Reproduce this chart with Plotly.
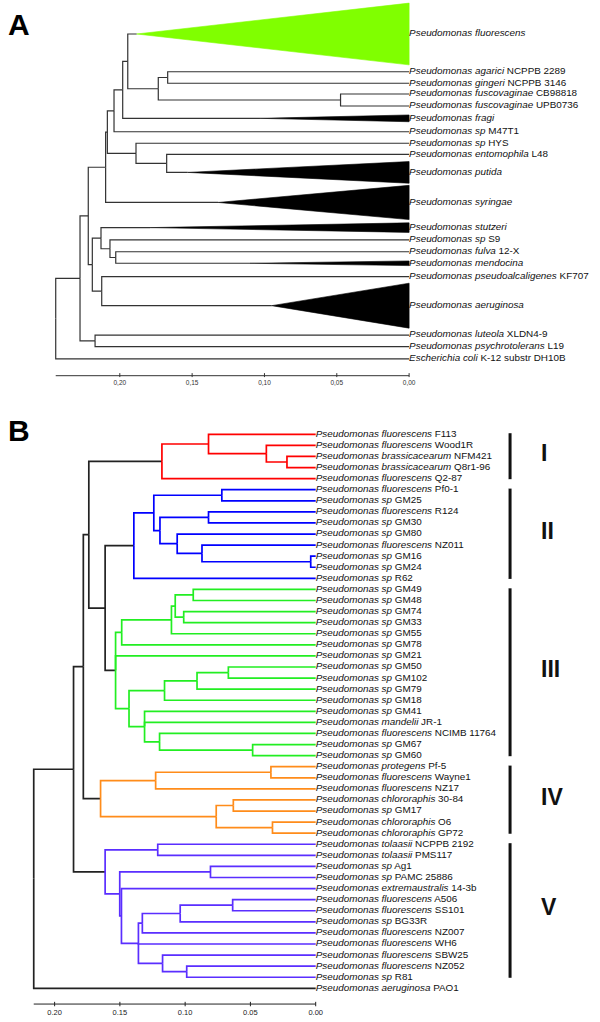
import plotly.graph_objects as go

FONT = "Liberation Sans, Arial, Helvetica, sans-serif"

# ---------------- Panel A data ----------------
A_species = ["Pseudomonas fluorescens", "Pseudomonas agarici", "Pseudomonas gingeri",
             "Pseudomonas fuscovaginae", "Pseudomonas fuscovaginae", "Pseudomonas fragi",
             "Pseudomonas sp", "Pseudomonas sp", "Pseudomonas entomophila", "Pseudomonas putida",
             "Pseudomonas syringae", "Pseudomonas stutzeri", "Pseudomonas sp", "Pseudomonas fulva",
             "Pseudomonas mendocina", "Pseudomonas pseudoalcaligenes", "Pseudomonas aeruginosa",
             "Pseudomonas luteola", "Pseudomonas psychrotolerans", "Escherichia coli"]
A_strain = ["", "NCPPB 2289", "NCPPB 3146", "CB98818", "UPB0736", "", "M47T1", "HYS", "L48", "",
            "", "", "S9", "12-X", "", "KF707", "", "XLDN4-9", "L19", "K-12 substr DH10B"]
# vertical position of each tip (in leaf-row units)
A_row = [0.0, 3.24, 4.23, 5.15, 6.18, 7.24, 8.39, 9.38, 10.33, 11.88,
         14.46, 16.62, 17.68, 18.69, 19.68, 20.83, 23.32, 25.84, 26.84, 27.88]
# collapsed clades (triangles)
A_collapsed_tip = [0, 5, 9, 10, 11, 14, 16]
A_collapsed_apex = [0.1883, 0.1031, 0.1532, 0.1320, 0.1791, 0.1100, 0.0950]
A_collapsed_half = [2.65, 0.29, 0.93, 1.47, 0.41, 0.20, 1.93]
A_collapsed_color = ["#80ff00", "#000000", "#000000", "#000000", "#000000", "#000000", "#000000"]


def N(d, *kids, color=None):
    return {"d": d, "kids": list(kids), "color": color}


# node depths (distance from tips)
tree_A = N(0.2443,
           N(0.2275,
             N(0.2218,
               N(0.2098,
                 N(0.2086,
                   N(0.2040,
                     N(0.1980,
                       N(0.1945, 0, N(0.1734, N(0.1669, 1, 2), N(0.0474, 3, 4))),
                       5),
                     6),
                   N(0.1888, 7, N(0.1676, 8, 9))),
                 10),
               N(0.2190,
                 N(0.2130, 11, N(0.2068, 12, N(0.2028, 13, 14))),
                 N(0.2125, 15, 16))),
             N(0.2171, 17, 18)),
           19)

# ---------------- Panel B data ----------------
B_species = (["Pseudomonas fluorescens", "Pseudomonas fluorescens", "Pseudomonas brassicacearum",
              "Pseudomonas brassicacearum", "Pseudomonas fluorescens"] +
             ["Pseudomonas fluorescens", "Pseudomonas sp", "Pseudomonas fluorescens", "Pseudomonas sp",
              "Pseudomonas sp", "Pseudomonas fluorescens", "Pseudomonas sp", "Pseudomonas sp",
              "Pseudomonas sp"] +
             ["Pseudomonas sp"] * 12 + ["Pseudomonas mandelii", "Pseudomonas fluorescens",
                                        "Pseudomonas sp", "Pseudomonas sp"] +
             ["Pseudomonas protegens", "Pseudomonas fluorescens", "Pseudomonas fluorescens",
              "Pseudomonas chlororaphis", "Pseudomonas sp", "Pseudomonas chlororaphis",
              "Pseudomonas chlororaphis"] +
             ["Pseudomonas tolaasii", "Pseudomonas tolaasii", "Pseudomonas sp", "Pseudomonas sp",
              "Pseudomonas extremaustralis", "Pseudomonas fluorescens", "Pseudomonas fluorescens",
              "Pseudomonas sp", "Pseudomonas fluorescens", "Pseudomonas fluorescens",
              "Pseudomonas fluorescens", "Pseudomonas fluorescens", "Pseudomonas sp"] +
             ["Pseudomonas aeruginosa"])
B_strain = (["F113", "Wood1R", "NFM421", "Q8r1-96", "Q2-87"] +
            ["Pf0-1", "GM25", "R124", "GM30", "GM80", "NZ011", "GM16", "GM24", "R62"] +
            ["GM49", "GM48", "GM74", "GM33", "GM55", "GM78", "GM21", "GM50", "GM102", "GM79",
             "GM18", "GM41", "JR-1", "NCIMB 11764", "GM67", "GM60"] +
            ["Pf-5", "Wayne1", "NZ17", "30-84", "GM17", "O6", "GP72"] +
            ["NCPPB 2192", "PMS117", "Ag1", "PAMC 25886", "14-3b", "A506", "SS101", "BG33R",
             "NZ007", "WH6", "SBW25", "NZ052", "R81"] +
            ["PAO1"])
B_row = list(range(len(B_species)))

groups = ["I", "II", "III", "IV", "V"]
group_first = [0, 5, 14, 30, 37]
group_last = [4, 13, 29, 36, 49]
group_color = ["#ff0000", "#0000ff", "#22ee22", "#ff8c1a", "#5a2eff"]

tree_B = N(0.2160,
           N(0.1855,
             N(0.1780,
               N(0.1738,
                 N(0.1178, N(0.0821, 0, N(0.0378, 1, N(0.0220, 2, 3))), 4, color=group_color[0]),
                 N(0.1613,
                   N(0.1393,
                     N(0.1240,
                       N(0.0719, 5, 6),
                       N(0.1193, N(0.0821, 7, 8),
                         N(0.1061, 9, N(0.0871, 10, N(0.0038, 11, 12))))),
                     13, color=group_color[1]),
                   N(0.1533,
                     N(0.1486,
                       N(0.1105, N(0.1076, N(0.0938, 14, 15), N(0.1011, 16, 17)), 18),
                       19),
                     20,
                     N(0.1430,
                       N(0.1158, N(0.0909, N(0.0669, 21, 22), 23), 24),
                       N(0.1311, 25, 26, N(0.1196, 27, N(0.0483, 28, 29)))),
                     color=group_color[2]))),
               N(0.1648,
                 N(0.1226, N(0.0343, 30, 31), 32),
                 N(0.0762, N(0.0631, 33, 34), N(0.0331, 35, 36)),
                 color=group_color[3])),
             N(0.1613,
               N(0.1210, 37, 38),
               N(0.1501,
                 N(0.0806, 39, 40),
                 N(0.1488,
                   41,
                   N(0.1358,
                     N(0.1328, N(0.1038, N(0.0636, 42, 43), 44), 45),
                     46,
                     N(0.1173, 47, N(0.0988, 48, 49))))),
               color=group_color[4])),
           50)

ticks = [0.20, 0.15, 0.10, 0.05, 0.00]


# ---------------- helpers ----------------
def set_y(node, rows):
    if isinstance(node, int):
        return rows[node]
    ys = [set_y(k, rows) for k in node["kids"]]
    node["y"] = (ys[0] + ys[-1]) / 2.0
    return node["y"]


def collect(node, color, segs, rows, tip_end):
    col = node["color"] or color
    for k in node["kids"]:
        if isinstance(k, int):
            ky, kd = rows[k], tip_end.get(k, 0.0)
        else:
            ky, kd = k["y"], k["d"]
        xs, ys = segs.setdefault(col, ([], []))
        xs += [node["d"], node["d"], kd, None]
        ys += [node["y"], ky, ky, None]
        if not isinstance(k, int):
            collect(k, col, segs, rows, tip_end)


def label(sp, st):
    return f"<i>{sp}</i>" + (f" {st}" if st else "")


fig = go.Figure()

# ---------------- Panel A ----------------
tipend_A = dict(zip(A_collapsed_tip, A_collapsed_apex))
set_y(tree_A, A_row)
segA = {}
collect(tree_A, "#333333", segA, A_row, tipend_A)
for col, (xs, ys) in segA.items():
    fig.add_trace(go.Scatter(x=xs, y=ys, mode="lines", line=dict(color=col, width=1.2),
                             xaxis="x", yaxis="y", hoverinfo="skip"))
for t, a, h, c in zip(A_collapsed_tip, A_collapsed_apex, A_collapsed_half, A_collapsed_color):
    r = A_row[t]
    fig.add_trace(go.Scatter(x=[a, 0, 0, a], y=[r, r - h, r + h, r], mode="lines",
                             fill="toself", fillcolor=c, line=dict(color=c, width=0.6),
                             xaxis="x", yaxis="y", hoverinfo="skip"))
fig.add_trace(go.Scatter(x=[0] * len(A_row), y=A_row, mode="text",
                         text=[label(s, t) for s, t in zip(A_species, A_strain)],
                         textposition="middle right",
                         textfont=dict(family=FONT, size=9.9, color="#111111"),
                         xaxis="x", yaxis="y", hoverinfo="skip"))
axA = A_row[-1] + 1.45
axx, axy = [tree_A["d"], 0, None], [axA, axA, None]
for v in ticks:
    axx += [v, v, None]
    axy += [axA - 0.22, axA + 0.12, None]
fig.add_trace(go.Scatter(x=axx, y=axy, mode="lines", line=dict(color="#333333", width=1),
                         xaxis="x", yaxis="y", hoverinfo="skip"))
fig.add_trace(go.Scatter(x=ticks, y=[axA + 0.68] * len(ticks), mode="text",
                         text=[f"{v:.2f}".replace(".", ",") for v in ticks],
                         textposition="middle center",
                         textfont=dict(family=FONT, size=6.5, color="#333333"),
                         xaxis="x", yaxis="y", hoverinfo="skip"))

# ---------------- Panel B ----------------
set_y(tree_B, B_row)
segB = {}
collect(tree_B, "#222222", segB, B_row, {})
for col, (xs, ys) in segB.items():
    fig.add_trace(go.Scatter(x=xs, y=ys, mode="lines", line=dict(color=col, width=1.7),
                             xaxis="x2", yaxis="y2", hoverinfo="skip"))
fig.add_trace(go.Scatter(x=[0] * len(B_row), y=B_row, mode="text",
                         text=[label(s, t) for s, t in zip(B_species, B_strain)],
                         textposition="middle right",
                         textfont=dict(family=FONT, size=9.9, color="#111111"),
                         xaxis="x2", yaxis="y2", hoverinfo="skip"))
axB = B_row[-1] + 1.42
bx, by = [tree_B["d"], 0, None], [axB, axB, None]
for v in ticks:
    bx += [v, v, None]
    by += [axB - 0.2, axB + 0.2, None]
fig.add_trace(go.Scatter(x=bx, y=by, mode="lines", line=dict(color="#222222", width=1),
                         xaxis="x2", yaxis="y2", hoverinfo="skip"))
fig.add_trace(go.Scatter(x=ticks, y=[axB + 0.84] * len(ticks), mode="text",
                         text=[f"{v:.2f}" for v in ticks], textposition="middle center",
                         textfont=dict(family=FONT, size=7.5, color="#222222"),
                         xaxis="x2", yaxis="y2", hoverinfo="skip"))

shapes = []
annotations = []
for g, f, l in zip(groups, group_first, group_last):
    shapes.append(dict(type="line", xref="x2", yref="y2", x0=-0.1489, x1=-0.1489,
                       y0=f - 0.1, y1=l + 0.05, line=dict(color="#111111", width=3)))
    annotations.append(dict(text=f"<b>{g}</b>", xref="x2", yref="y2", x=-0.171,
                            y=(f + l) / 2 - 0.3, xanchor="left", yanchor="middle",
                            showarrow=False, font=dict(family=FONT, size=23, color="#111111")))
annotations.append(dict(text="<b>A</b>", xref="paper", yref="paper", x=19 / 600, y=1 - 25 / 1022,
                        xanchor="center", yanchor="middle", showarrow=False,
                        font=dict(family=FONT, size=30, color="#000000")))
annotations.append(dict(text="<b>B</b>", xref="paper", yref="paper", x=18.5 / 600, y=1 - 430 / 1022,
                        xanchor="center", yanchor="middle", showarrow=False,
                        font=dict(family=FONT, size=30, color="#000000")))

split = 1 - 392 / 1022
fig.update_layout(
    width=600, height=1022, margin=dict(l=0, r=0, t=0, b=0),
    paper_bgcolor="white", plot_bgcolor="rgba(0,0,0,0)", showlegend=False,
    xaxis=dict(domain=[0, 1], range=[0.28282, -0.13196], visible=False, anchor="y"),
    yaxis=dict(domain=[split, 1], range=[30.73, -2.918], visible=False, anchor="x"),
    xaxis2=dict(domain=[0, 1], range=[0.24184, -0.2178], visible=False, anchor="y2"),
    yaxis2=dict(domain=[0, split], range=[53.04, -3.818], visible=False, anchor="x2"),
    shapes=shapes, annotations=annotations,
)
fig.write_html("out.html", config={"displayModeBar": False},
               post_script="document.body.style.margin='0px';")
